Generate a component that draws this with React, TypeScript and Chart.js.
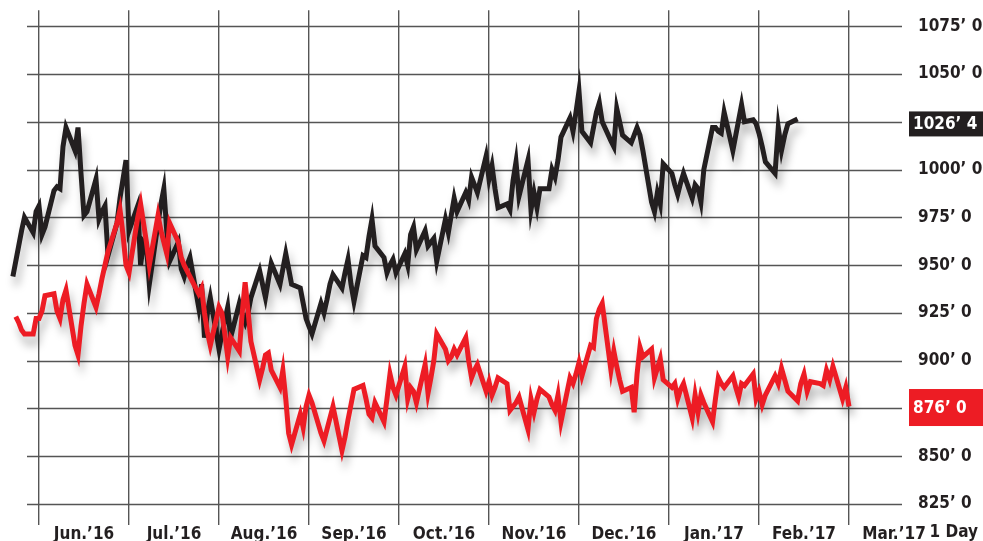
import React, { useEffect, useRef } from "react";
import { Chart, registerables } from "chart.js";

Chart.register(...registerables);

// ---------- data ----------
const MONTH_LABELS = ["Jun.’16", "Jul.’16", "Aug.’16", "Sep.’16", "Oct.’16", "Nov.’16", "Dec.’16", "Jan.’17", "Feb.’17", "Mar.’17"];
const Y_TICKS = [825, 850, 875, 900, 925, 950, 975, 1000, 1025, 1050, 1075];
const HIDDEN_Y_LABELS = [875, 1025];
const AXIS_NOTE = "1 Day";

// calendar months covered: [year, month (0-based)]
const MONTHS = [
  [2016, 4], [2016, 5], [2016, 6], [2016, 7], [2016, 8], [2016, 9],
  [2016, 10], [2016, 11], [2017, 0], [2017, 1], [2017, 2],
];
const BLACK_FIRST_DAY = 23; // first trading day shown in May 2016
const RED_FIRST_DAY = 24;

// daily closes, one entry per weekday of each month
const BLACK_BY_MONTH = [
  [944, 952, 960, 968, 975, 967, 978],
  [981, 966, 970, 989, 991, 990, 1012, 1022, 1010, 1022, 998, 976, 978, 995, 974, 978, 981, 955, 972, 985, 995, 1005],
  [968, 981, 950, 962, 960, 940, 972, 982, 990, 968, 952, 962, 948, 944, 950, 954, 928, 940, 912, 925, 933],
  [906, 914, 921, 928, 912, 930, 924, 920, 925, 933, 947, 940, 933, 942, 951, 940, 948, 956, 948, 940, 938, 930, 922],
  [918, 914, 930, 925, 932, 940, 945, 938, 946, 953, 940, 931, 955, 954, 965, 974, 960, 954, 946, 950, 953, 946],
  [956, 950, 966, 970, 958, 968, 960, 962, 964, 952, 974, 967, 976, 985, 978, 988, 984, 996, 992, 988, 1007],
  [995, 1002, 990, 980, 982, 979, 994, 1004, 986, 1005, 979, 988, 980, 990, 990, 1000, 996, 1005, 1017, 1027, 1020, 1030],
  [1041, 1020, 1014, 1022, 1030, 1035, 1025, 1015, 1012, 1032, 1025, 1018, 1014, 1018, 1022, 1018, 1010, 983, 978, 988, 982, 1003],
  [998, 992, 987, 993, 998, 985, 992, 990, 983, 1000, 1022, 1022, 1020, 1019, 1030, 1010, 1018, 1026, 1034, 1025, 1026, 1024],
  [1019, 1012, 1004, 998, 1022, 1010, 1018, 1024, 1026.5],
  [],
];

const RED_BY_MONTH = [
  [923, 920, 916, 914, 914, 922],
  [922, 926, 934, 935, 926, 922, 932, 937, 908, 903, 918, 930, 940, 928, 935, 943, 950, 957, 972, 979, 966, 950],
  [946, 975, 982, 972, 962, 950, 976, 968, 962, 956, 972, 962, 954, 950, 947, 944, 935, 938, 925, 915, 908],
  [928, 925, 914, 902, 912, 905, 925, 941, 926, 910, 890, 896, 903, 904, 895, 886, 895, 880, 862, 856, 872, 865, 876],
  [882, 878, 862, 858, 864, 870, 876, 853, 860, 869, 877, 885, 887, 880, 872, 870, 878, 868, 880, 893, 886, 882],
  [897, 880, 886, 884, 878, 898, 883, 891, 900, 914, 906, 900, 902, 906, 903, 912, 900, 891, 895, 898, 884],
  [889, 882, 886, 891, 888, 874, 876, 878, 881, 864, 880, 873, 880, 885, 881, 877, 874, 882, 868, 891, 888, 893],
  [899, 892, 908, 907, 922, 927, 930, 895, 905, 897, 890, 884, 886, 873, 893, 907, 902, 906, 891, 896, 901, 890],
  [886, 888, 880, 885, 888, 870, 882, 873, 882, 878, 868, 880, 891, 888, 886, 892, 886, 881, 888, 887, 893, 880],
  [884, 877, 882, 892, 888, 896, 890, 884, 879, 888, 893, 884, 889, 888, 887, 895, 890, 897, 880, 886],
  [876],
];

// ---------- styles ----------
const BLACK = "#231f20";
const RED = "#ed1c24";
const GRID = "#555555";
const FONT_FAMILY = "'DejaVu Sans Condensed', 'DejaVu Sans', sans-serif";
const FONT_SIZE = 17;
const LINE_WIDTH = 5;
const HGRID_LEFT_INSET = 15; // horizontal grid starts this far right of the plot's left edge

function weekdaysFrom(year: number, month: number, firstDay: number): number[] {
  const out: number[] = [];
  const dim = new Date(year, month + 1, 0).getDate();
  for (let d = firstDay; d <= dim; d++) {
    const wd = new Date(year, month, d).getDay();
    if (wd !== 0 && wd !== 6) out.push(d);
  }
  return out;
}

// x position measured in months, Jun 1 2016 = 0
function buildPoints(byMonth: number[][], firstDay: number) {
  const pts: { x: number; y: number }[] = [];
  byMonth.forEach((vals, i) => {
    const [yr, m] = MONTHS[i];
    const days = weekdaysFrom(yr, m, i === 0 ? firstDay : 1);
    const dim = new Date(yr, m + 1, 0).getDate();
    vals.forEach((v, k) => {
      const d = days[k];
      pts.push({ x: (yr - 2016) * 12 + m - 5 + (d - 1) / dim, y: v });
    });
  });
  return pts;
}

function fmtPrice(v: number): string {
  const whole = Math.floor(v);
  const eighths = Math.round((v - whole) * 8);
  return `${whole}’ ${eighths}`;
}

const X_TICKS: number[] = [];
for (let i = 0; i < MONTH_LABELS.length; i++) {
  X_TICKS.push(i);
  X_TICKS.push(i + 0.5);
}

export default function App() {
  const ref = useRef<HTMLCanvasElement | null>(null);

  useEffect(() => {
    document.body.style.margin = "0";
    const canvas = ref.current;
    if (!canvas) return;

    const redPts = buildPoints(RED_BY_MONTH, RED_FIRST_DAY);
    const blackPts = buildPoints(BLACK_BY_MONTH, BLACK_FIRST_DAY);

    const hGridPlugin = {
      id: "hGrid",
      beforeDatasetsDraw(chart: any) {
        const c = chart.ctx;
        const area = chart.chartArea;
        const y = chart.scales.y;
        c.save();
        c.strokeStyle = GRID;
        c.lineWidth = 1.4;
        Y_TICKS.forEach((v) => {
          const py = Math.round(y.getPixelForValue(v)) + 0.5;
          c.beginPath();
          c.moveTo(area.left + HGRID_LEFT_INSET, py);
          c.lineTo(area.right, py);
          c.stroke();
        });
        c.restore();
      },
    };

    const shadowPlugin = {
      id: "lineShadow",
      beforeDatasetDraw(chart: any) {
        const c = chart.ctx;
        c.save();
        c.shadowColor = "rgba(0,0,0,0.28)";
        c.shadowBlur = 9;
        c.shadowOffsetX = 3;
        c.shadowOffsetY = 9;
      },
      afterDatasetDraw(chart: any) {
        chart.ctx.restore();
      },
    };

    const boxes = [
      { ds: 1, bg: BLACK, h: 25, dy: 5 },
      { ds: 0, bg: RED, h: 37, dy: 1 },
    ];

    const labelPlugin = {
      id: "lastValueBoxes",
      afterDraw(chart: any) {
        const c = chart.ctx;
        const area = chart.chartArea;
        const yScale = chart.scales.y;
        c.save();
        c.font = `bold ${FONT_SIZE}px ${FONT_FAMILY}`;
        boxes.forEach((b) => {
          const data = chart.data.datasets[b.ds].data;
          const last = data[data.length - 1].y;
          const py = yScale.getPixelForValue(last) + b.dy;
          const x0 = area.right + 7;
          c.fillStyle = b.bg;
          c.fillRect(x0, py - b.h / 2, chart.width - x0, b.h);
          c.fillStyle = "#ffffff";
          c.textAlign = "left";
          c.textBaseline = "middle";
          c.fillText(fmtPrice(last), x0 + 4, py + 1);
        });
        c.fillStyle = BLACK;
        c.textAlign = "right";
        c.textBaseline = "top";
        c.fillText(AXIS_NOTE, chart.width - 5, area.bottom - 1);
        c.restore();
      },
    };

    const font = { family: FONT_FAMILY, size: FONT_SIZE, weight: "bold" as const };

    const chart = new Chart(canvas, {
      type: "line",
      data: {
        datasets: [
          {
            label: "red",
            data: redPts,
            borderColor: RED,
            backgroundColor: RED,
            borderWidth: LINE_WIDTH,
            pointRadius: 0,
            tension: 0,
            clip: false as any,
            borderJoinStyle: "miter",
            borderCapStyle: "butt",
          },
          {
            label: "black",
            data: blackPts,
            borderColor: BLACK,
            backgroundColor: BLACK,
            borderWidth: LINE_WIDTH,
            pointRadius: 0,
            tension: 0,
            clip: false as any,
            borderJoinStyle: "miter",
            borderCapStyle: "butt",
          },
        ],
      },
      options: {
        animation: false,
        responsive: false,
        events: [],
        layout: { padding: { left: 12, top: 10, right: 0, bottom: 0 } },
        plugins: { legend: { display: false }, tooltip: { enabled: false } },
        scales: {
          x: {
            type: "linear",
            min: -0.3,
            max: 9.589,
            afterBuildTicks: (s: any) => {
              s.ticks = X_TICKS.map((v) => ({ value: v }));
            },
            afterFit: (s: any) => {
              s.height = 16;
            },
            border: { display: false },
            grid: {
              drawTicks: false,
              lineWidth: 1.4,
              color: (ctx: any) =>
                ctx.tick && Number.isInteger(ctx.tick.value) ? GRID : "rgba(0,0,0,0)",
            },
            ticks: {
              autoSkip: false,
              maxRotation: 0,
              minRotation: 0,
              padding: -1,
              color: BLACK,
              font,
              callback: (v: any) =>
                Number.isInteger(v) ? "" : MONTH_LABELS[Math.floor(v)] ?? "",
            },
          },
          y: {
            type: "linear",
            position: "right",
            min: 814,
            max: 1083.4,
            afterBuildTicks: (s: any) => {
              s.ticks = Y_TICKS.map((v) => ({ value: v }));
            },
            afterFit: (s: any) => {
              s.width = 81;
            },
            border: { display: false },
            grid: {
              drawOnChartArea: false,
              drawTicks: true,
              tickLength: 16,
              tickColor: "rgba(0,0,0,0)",
              color: "rgba(0,0,0,0)",
            },
            ticks: {
              autoSkip: false,
              padding: 0,
              color: BLACK,
              font,
              callback: (v: any) => (HIDDEN_Y_LABELS.includes(v) ? "" : `${v}’ 0`),
            },
          },
        },
      },
      plugins: [hGridPlugin, shadowPlugin, labelPlugin],
    });

    return () => chart.destroy();
  }, []);

  return (
    <div style={{ width: 983, height: 541, background: "#ffffff" }}>
      <canvas ref={ref} width={983} height={541} style={{ display: "block" }} />
    </div>
  );
}
